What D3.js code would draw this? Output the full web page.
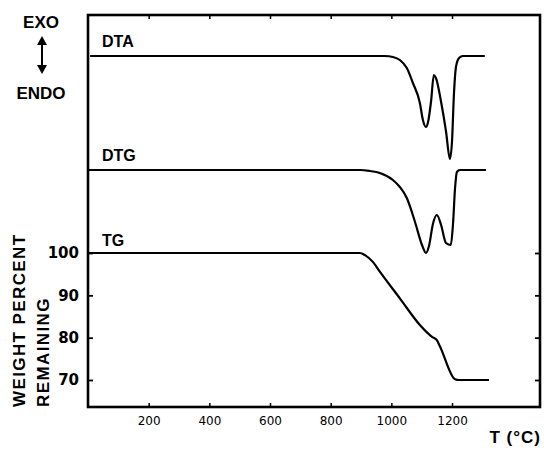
<!DOCTYPE html>
<html>
<head>
<meta charset="utf-8">
<script src="https://cdn.jsdelivr.net/npm/d3@7"></script>
<style>
  body { margin: 0; background: #fff; }
  svg { display: block; }
  .curve { fill: none; stroke: #000; stroke-width: 2.2; stroke-linejoin: round; }
  .lbl { font-family: "Liberation Sans", Arial, sans-serif; font-weight: bold; fill: #000; }
  .tick text { font-family: "DejaVu Sans", sans-serif; fill: #000; }
</style>
</head>
<body>
<script>
// ---- dane ----
// temperatura (°C) i odchylenie DTA (jedn. umowne)
const dtaT   = [7, 979, 1005, 1028, 1051, 1071, 1094, 1104, 1114, 1121, 1131, 1140, 1147, 1164, 1180, 1193, 1200, 1206, 1213, 1223, 1236, 1308];
const dtaVal = [0, 0, -1, -4, -12, -27, -47, -64, -71, -66, -45, -19, -22, -46, -75, -103, -85, -40, -11, -2, 0, 0];

// DTG (jedn. umowne)
const dtgT   = [0, 897, 929, 962, 1005, 1028, 1051, 1078, 1101, 1114, 1124, 1137, 1150, 1164, 1180, 1196, 1203, 1210, 1216, 1226, 1312];
const dtgVal = [0, 0, -1, -3, -10, -17, -28, -52, -75, -83, -76, -54, -45, -55, -73, -75, -55, -18, -2, 0, 0];

// TG - procent masy
const tgT   = [0, 897, 913, 939, 962, 1028, 1094, 1134, 1150, 1160, 1210, 1223, 1322];
const tgVal = [100, 100, 99.5, 97.9, 95.6, 89.3, 83.0, 80.2, 79.4, 78.0, 70.2, 70, 70];

const xTicks = [200, 400, 600, 800, 1000, 1200];
const yTicks = [70, 80, 90, 100];

// ---- wymiary ----
const WIDTH = 544, HEIGHT = 450;
const LEFT = 88, RIGHT = 540, TOP = 15, BOTTOM = 407;

const svg = d3.select("body").append("svg")
  .attr("width", WIDTH)
  .attr("height", HEIGHT);

// skale
const x = d3.scaleLinear().domain([0, 1490]).range([LEFT, RIGHT]);
const y = d3.scaleLinear().domain([70, 100]).range([380, 253]);
const yDta = d3.scaleLinear().domain([0, -100]).range([56, 156]);
const yDtg = d3.scaleLinear().domain([0, -100]).range([170, 270]);

function line(ys) {
  return d3.line()
    .x(d => x(d[0]))
    .y(d => ys(d[1]))
    .curve(d3.curveMonotoneX);
}

// osie - ticki do środka
svg.append("g")
  .attr("transform", `translate(0,${BOTTOM})`)
  .call(d3.axisBottom(x).tickValues(xTicks).tickSize(-4).tickPadding(9).tickFormat(d3.format("d")))
  .call(g => g.select(".domain").remove())
  .call(g => g.selectAll("line").attr("stroke-width", 1.5))
  .call(g => g.selectAll("text").attr("font-size", 12));

svg.append("g")
  .attr("transform", `translate(0,${TOP})`)
  .call(d3.axisTop(x).tickValues(xTicks).tickSize(-4).tickFormat(""))
  .call(g => g.select(".domain").remove())
  .call(g => g.selectAll("line").attr("stroke-width", 1.5));

svg.append("g")
  .attr("transform", `translate(${LEFT},0)`)
  .call(d3.axisLeft(y).tickValues(yTicks).tickSize(-5).tickPadding(9))
  .call(g => g.select(".domain").remove())
  .call(g => g.selectAll("line").attr("stroke-width", 1.8))
  .call(g => g.selectAll("text")
    .attr("font-size", 15)
    .attr("font-family", "Liberation Sans, Arial, sans-serif")
    .attr("font-weight", "bold"));

svg.append("g")
  .attr("transform", `translate(${RIGHT},0)`)
  .call(d3.axisRight(y).tickValues(yTicks).tickSize(-5).tickFormat(""))
  .call(g => g.select(".domain").remove())
  .call(g => g.selectAll("line").attr("stroke-width", 1.8));

// ramka
svg.append("rect")
  .attr("x", LEFT).attr("y", TOP)
  .attr("width", RIGHT - LEFT).attr("height", BOTTOM - TOP)
  .attr("fill", "none")
  .attr("stroke", "#000")
  .attr("stroke-width", 2.6);

// krzywe
svg.append("path").attr("class", "curve")
  .attr("d", line(yDta)(d3.zip(dtaT, dtaVal)));
svg.append("path").attr("class", "curve")
  .attr("d", line(yDtg)(d3.zip(dtgT, dtgVal)));
svg.append("path").attr("class", "curve")
  .attr("d", line(y)(d3.zip(tgT, tgVal)));

// etykiety krzywych
svg.append("text").attr("class", "lbl").attr("x", 102).attr("y", 47).attr("font-size", 16).text("DTA");
svg.append("text").attr("class", "lbl").attr("x", 102).attr("y", 161).attr("font-size", 16).text("DTG");
svg.append("text").attr("class", "lbl").attr("x", 102).attr("y", 246).attr("font-size", 16).text("TG");

// EXO / ENDO
svg.append("text").attr("class", "lbl").attr("x", 41).attr("y", 28).attr("font-size", 17)
  .attr("text-anchor", "middle").text("EXO");
svg.append("text").attr("class", "lbl").attr("x", 41).attr("y", 99).attr("font-size", 17)
  .attr("text-anchor", "middle").text("ENDO");
svg.append("line").attr("x1", 42).attr("x2", 42).attr("y1", 42).attr("y2", 68)
  .attr("stroke", "#000").attr("stroke-width", 2);
svg.append("path").attr("d", "M42,36 L37,45 L47,45 Z").attr("fill", "#000");
svg.append("path").attr("d", "M42,74 L37,65 L47,65 Z").attr("fill", "#000");

// tytuły osi
svg.append("text").attr("class", "lbl")
  .attr("transform", "translate(25,407) rotate(-90)")
  .attr("font-size", 17).attr("letter-spacing", 1.4)
  .text("WEIGHT PERCENT");
svg.append("text").attr("class", "lbl")
  .attr("transform", "translate(49,407) rotate(-90)")
  .attr("font-size", 17).attr("letter-spacing", 1.4)
  .text("REMAINING");

svg.append("text").attr("class", "lbl")
  .attr("x", 541).attr("y", 443)
  .attr("text-anchor", "end")
  .attr("font-size", 17)
  .attr("letter-spacing", 1)
  .text("T (°C)");
</script>
</body>
</html>
